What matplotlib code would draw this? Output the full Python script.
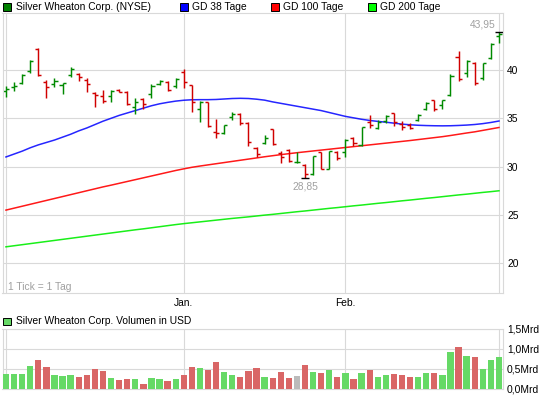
import matplotlib
matplotlib.use('Agg')
import matplotlib.pyplot as plt
from matplotlib.patches import Rectangle
import numpy as np

plt.rcParams['font.family'] = ['Liberation Sans', 'DejaVu Sans']

# ---------------- data ----------------
opens = [37.86, 38.2, 38.62, 39.9, 42.2, 38.79, 38.55, 38.45, 39.48, 39.59,
         39.0, 37.65, 37.31, 37.31, 37.95, 37.76, 36.2, 37.0, 37.48, 38.5,
         38.79, 38.38, 39.83, 38.4, 35.93, 36.65, 33.6, 33.45, 35.1, 35.4,
         34.55, 31.9, 32.45, 33.85, 31.45, 31.72, 30.5, 30.2, 29.23, 31.5,
         29.8, 31.5, 31.55, 32.95, 32.2, 34.65, 33.96, 34.75, 35.5, 34.45,
         34.3, 34.85, 36.0, 36.85, 36.38, 37.4, 41.31, 39.66, 40.76, 39.14,
         41.2, 43.5]
highs = [38.38, 38.72, 39.59, 41.04, 42.25, 38.97, 39.14, 38.69, 40.28, 39.72,
         39.14, 37.69, 37.93, 37.93, 38.0, 37.86, 37.14, 37.07, 38.52, 38.96,
         38.86, 39.2, 40.1, 38.45, 36.79, 36.72, 34.9, 34.35, 35.7, 35.5,
         34.6, 32.0, 33.3, 33.9, 31.65, 31.79, 31.55, 30.27, 31.1, 31.55,
         31.65, 31.6, 32.82, 33.03, 34.13, 35.34, 34.82, 35.34, 35.58, 34.7,
         34.55, 35.45, 36.72, 36.9, 36.9, 39.59, 42.0, 41.04, 40.86, 40.76,
         42.83, 43.95]
lows = [37.17, 37.86, 38.55, 39.66, 39.38, 37.07, 38.27, 37.48, 39.24, 38.9,
        37.69, 36.2, 36.55, 36.72, 37.7, 36.38, 35.45, 35.93, 37.07, 38.4,
        37.83, 38.1, 38.17, 35.7, 34.6, 34.13, 32.93, 33.34, 34.85, 34.3,
        32.15, 31.0, 32.3, 32.24, 30.4, 30.51, 30.35, 28.85, 29.13, 29.72,
        29.72, 30.68, 31.03, 32.13, 32.13, 33.96, 33.86, 34.55, 34.2, 33.8,
        33.85, 34.75, 35.86, 35.8, 35.93, 37.31, 38.9, 39.24, 38.45, 38.96,
        41.1, 42.83]
closes = [38.0, 38.34, 39.48, 40.93, 39.45, 38.21, 38.9, 38.62, 40.1, 39.24,
          38.55, 37.41, 36.79, 37.86, 37.76, 36.45, 36.72, 36.5, 38.38, 38.85,
          37.93, 39.07, 38.72, 36.65, 36.72, 34.2, 33.45, 34.3, 35.45, 34.48,
          32.5, 31.3, 33.0, 32.3, 31.0, 30.6, 30.5, 29.23, 31.05, 29.8,
          31.6, 30.86, 32.75, 32.41, 34.07, 34.3, 34.65, 35.25, 34.65, 34.1,
          34.0, 35.35, 36.6, 35.93, 36.85, 39.38, 39.03, 40.97, 38.69, 40.69,
          42.69, 43.7]
volumes = [0.38, 0.38, 0.38, 0.58, 0.73, 0.56, 0.36, 0.33, 0.36, 0.31,
           0.36, 0.51, 0.46, 0.28, 0.23, 0.26, 0.26, 0.13, 0.28, 0.26,
           0.21, 0.26, 0.36, 0.56, 0.53, 0.48, 0.68, 0.43, 0.36, 0.31,
           0.46, 0.53, 0.31, 0.28, 0.43, 0.28, 0.33, 0.61, 0.43, 0.41,
           0.48, 0.31, 0.41, 0.26, 0.41, 0.48, 0.31, 0.36, 0.38, 0.36,
           0.31, 0.31, 0.41, 0.41, 0.36, 0.93, 1.06, 0.83, 0.81, 0.51,
           0.73, 0.81]
ma38 = [31.0, 31.3, 31.6, 31.95, 32.25, 32.5, 32.75, 33.05, 33.35, 33.7,
        34.0, 34.35, 34.7, 35.0, 35.3, 35.55, 35.8, 36.05, 36.3, 36.5,
        36.65, 36.78, 36.87, 36.92, 36.93, 36.93, 36.95, 37.0, 37.05, 37.07,
        37.05, 36.98, 36.88, 36.7, 36.55, 36.4, 36.25, 36.1, 35.95, 35.8,
        35.6, 35.4, 35.2, 35.05, 34.9, 34.78, 34.68, 34.6, 34.5, 34.4,
        34.33, 34.28, 34.25, 34.23, 34.22, 34.23, 34.26, 34.3, 34.36, 34.45,
        34.57, 34.72]
ma100 = [25.5, 25.7, 25.9, 26.1, 26.3, 26.5, 26.7, 26.9, 27.1, 27.3,
         27.5, 27.7, 27.9, 28.08, 28.27, 28.46, 28.65, 28.84, 29.03, 29.22,
         29.41, 29.6, 29.77, 29.93, 30.06, 30.18, 30.3, 30.42, 30.54, 30.66,
         30.78, 30.9, 31.02, 31.13, 31.24, 31.34, 31.44, 31.53, 31.62, 31.71,
         31.8, 31.89, 31.98, 32.07, 32.16, 32.25, 32.34, 32.43, 32.52, 32.61,
         32.7, 32.8, 32.9, 33.0, 33.1, 33.22, 33.35, 33.48, 33.6, 33.75,
         33.9, 34.05]
ma200 = [21.7, 21.81, 21.92, 22.03, 22.14, 22.25, 22.36, 22.47, 22.58, 22.69,
         22.8, 22.91, 23.02, 23.13, 23.24, 23.35, 23.46, 23.56, 23.67, 23.78,
         23.89, 24.0, 24.1, 24.19, 24.28, 24.37, 24.46, 24.55, 24.64, 24.72,
         24.8, 24.89, 24.98, 25.06, 25.15, 25.24, 25.33, 25.41, 25.5, 25.59,
         25.68, 25.76, 25.85, 25.94, 26.02, 26.11, 26.2, 26.28, 26.37, 26.46,
         26.54, 26.63, 26.72, 26.8, 26.89, 26.98, 27.07, 27.15, 27.24, 27.33,
         27.41, 27.5]

month_starts = [0, 22, 42, 61]
month_labels = ['', 'Jan.', 'Feb.', '']
price_ticks = [20, 25, 30, 35, 40]
vol_ticks = [0.0, 0.5, 1.0, 1.5]
vol_labels = ['0,0Mrd', '0,5Mrd', '1,0Mrd', '1,5Mrd']
legend_labels = ['Silver Wheaton Corp. (NYSE)', 'GD 38 Tage', 'GD 100 Tage', 'GD 200 Tage']
vol_title = 'Silver Wheaton Corp. Volumen in USD'
tick_note = '1 Tick = 1 Tag'

# ---------------- styling ----------------
W, H = 545, 398
FS = 7.4
GRID = '#d9d9d9'
UP, DOWN = '#008a00', '#d00000'
VUP, VDOWN, VFLAT = '#66d966', '#d96666', '#bbbbbb'
LEG_COLORS = ['#008000', '#0000ff', '#ff0000', '#00ff00']

fig = plt.figure(figsize=(W / 100, H / 100), dpi=100)
fig.patch.set_facecolor('white')


def fx(px):
    return px / W


def fy(py):
    return 1 - py / H


ax = fig.add_axes([fx(2.5), fy(293), (503 - 2.5) / W, (293 - 13) / H])
axv = fig.add_axes([fx(2.5), fy(389), (503 - 2.5) / W, (389 - 329) / H])

x = np.arange(len(opens))
o = np.array(opens); h = np.array(highs); l = np.array(lows); c = np.array(closes)
cols = [UP if cc >= oo else DOWN for oo, cc in zip(o, c)]

for a in (ax, axv):
    a.set_xlim(-0.43, 61.5)
    for s in a.spines.values():
        s.set_color(GRID)
        s.set_linewidth(0.8)
    a.set_xticks(month_starts)
    a.grid(True, color=GRID, linewidth=0.8)
    a.set_axisbelow(True)
    a.yaxis.tick_right()
    a.tick_params(length=0, labelsize=FS, colors='black')

# price panel
ax.set_ylim(16.92, 45.9)
ax.set_yticks(price_ticks)
ax.set_yticklabels([str(t) for t in price_ticks])
ax.tick_params(axis='y', pad=2.9)
ax.set_xticklabels(month_labels)
ax.tick_params(axis='x', pad=3.6)

ax.plot(x, ma200, color='#00ee00', lw=1.1, alpha=0.9)
ax.plot(x, ma100, color='#ff0000', lw=1.1, alpha=0.9)
ax.plot(x, ma38, color='#0000ff', lw=1.1, alpha=0.85)

tick = 0.38
ax.vlines(x, l, h, colors=cols, lw=1.05)
ax.hlines(o, x - tick, x, colors=cols, lw=1.05)
ax.hlines(c, x, x + tick, colors=cols, lw=1.05)

ih = int(np.argmax(h)); il = int(np.argmin(l))
ax.hlines(h[ih], ih - 0.5, ih + 0.5, colors='black', lw=1.0)
ax.hlines(l[il], il - 0.55, il + 0.55, colors='black', lw=1.0)
ax.annotate(f"{h[ih]:.2f}".replace('.', ','), xy=(ih, h[ih]), xytext=(-2.2, 2.8),
            textcoords='offset points', ha='right', va='baseline',
            color='#a0a0a0', fontsize=FS)
ax.annotate(f"{l[il]:.2f}".replace('.', ','), xy=(il, l[il]), xytext=(0, -3.0),
            textcoords='offset points', ha='center', va='top',
            color='#a0a0a0', fontsize=FS)

fig.text(fx(8), fy(290), tick_note, color='#a0a0a0', fontsize=FS, va='baseline')

# volume panel
vcols = [VUP if cc > oo else (VDOWN if cc < oo else VFLAT) for oo, cc in zip(o, c)]
axv.bar(x, volumes, width=0.78, color=vcols, zorder=3)
axv.set_ylim(0, 1.5)
axv.set_yticks(vol_ticks)
axv.set_yticklabels(vol_labels)
axv.tick_params(axis='y', pad=2.9)
axv.set_xticklabels([])

# legends
leg_x = [3, 180, 271, 368]
for lx, lab, col in zip(leg_x, legend_labels, LEG_COLORS):
    fig.add_artist(Rectangle((fx(lx), fy(10.6)), 7.5 / W, 7.5 / H, transform=fig.transFigure,
                             facecolor=col, edgecolor='black', lw=0.7))
    fig.text(fx(lx + 12.5), fy(7.0), lab, fontsize=FS, va='center', ha='left')

fig.add_artist(Rectangle((fx(3.2), fy(325)), 7.5 / W, 7.5 / H, transform=fig.transFigure,
                         facecolor=VUP, edgecolor='black', lw=0.7))
fig.text(fx(15.7), fy(321.2), vol_title, fontsize=FS, va='center', ha='left')

fig.savefig('out.png', dpi=100)
